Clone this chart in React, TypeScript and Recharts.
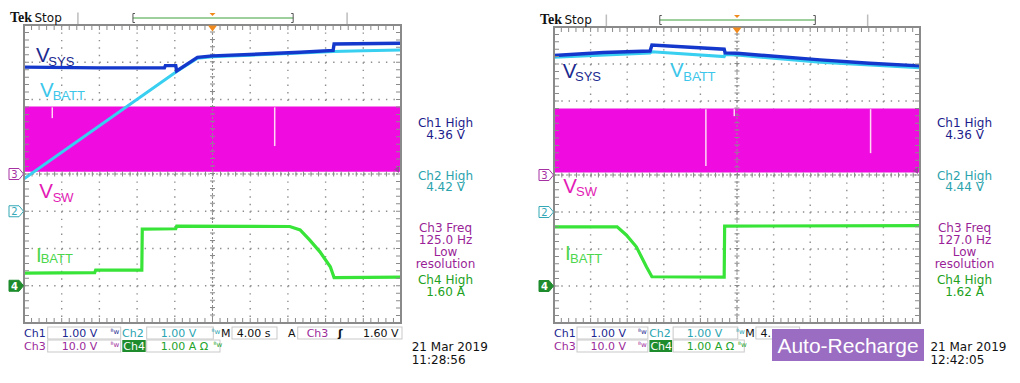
import React from 'react';
import { ComposedChart, Line, Area, XAxis, YAxis, CartesianGrid, ReferenceLine } from 'recharts';

// ---------- axes (4.00 s/div, 10 x 8 divisions) ----------
const TIME_TICKS = [0, 4, 8, 12, 16, 20, 24, 28, 32, 36, 40];
const DIV_TICKS = [0, 1, 2, 3, 4, 5, 6, 7, 8];

// channel settings: ground marker position (div) and units per division
const CH1 = { ground: 3, perDiv: 1 }; // VSYS 1.00 V/div
const CH2 = { ground: 3, perDiv: 1 }; // VBATT 1.00 V/div
const CH3 = { ground: 4, perDiv: 10 }; // VSW 10.0 V/div
const CH4 = { ground: 1, perDiv: 1 }; // IBATT 1.00 A/div

// ---------- left capture (11:28:56) ----------
const leftVsys = [
  { t: 0, v: 3.87 }, { t: 8.0, v: 3.85 }, { t: 14.9, v: 3.85 }, { t: 15.0, v: 3.91 },
  { t: 16.1, v: 3.91 }, { t: 16.2, v: 3.77 }, { t: 18.4, v: 4.13 }, { t: 20.0, v: 4.17 },
  { t: 25.0, v: 4.22 }, { t: 29.3, v: 4.27 }, { t: 32.8, v: 4.32 }, { t: 32.9, v: 4.49 },
  { t: 40, v: 4.51 },
];
const leftVbatt = [
  { t: 0, v: 0.87 }, { t: 16.2, v: 3.75 }, { t: 18.4, v: 4.11 }, { t: 20.0, v: 4.15 },
  { t: 25.0, v: 4.2 }, { t: 29.3, v: 4.25 }, { t: 32.8, v: 4.29 }, { t: 36.0, v: 4.31 },
  { t: 40, v: 4.33 },
];
const leftIbatt = [
  { t: 0, v: 0.34 }, { t: 7.5, v: 0.35 }, { t: 7.6, v: 0.42 }, { t: 12.5, v: 0.42 },
  { t: 12.55, v: 1.52 }, { t: 16.1, v: 1.53 }, { t: 16.2, v: 1.6 }, { t: 28.2, v: 1.59 },
  { t: 29.3, v: 1.5 }, { t: 30.3, v: 1.23 }, { t: 31.4, v: 0.91 }, { t: 32.5, v: 0.51 },
  { t: 32.9, v: 0.22 }, { t: 40, v: 0.23 },
];
const leftVsw = [{ t: 0, lo: 0.8, hi: 17.9 }, { t: 40, lo: 0.8, hi: 17.9 }];
const leftGlitches = [{ t: 3.0, lo: 15.0, hi: 17.9 }, { t: 26.6, lo: 7.5, hi: 17.9 }];

// ---------- right capture (12:42:05, auto-recharge) ----------
const rightVsys = [
  { t: 0, v: 4.23 }, { t: 5.4, v: 4.31 }, { t: 10.5, v: 4.35 }, { t: 10.7, v: 4.51 },
  { t: 18.6, v: 4.4 }, { t: 18.7, v: 4.3 }, { t: 20.0, v: 4.29 }, { t: 29.1, v: 4.11 },
  { t: 34.5, v: 4.02 }, { t: 40, v: 3.95 },
];
const rightVbatt = [
  { t: 0, v: 4.18 }, { t: 10.5, v: 4.3 }, { t: 10.7, v: 4.33 }, { t: 18.6, v: 4.2 },
  { t: 18.7, v: 4.26 }, { t: 20.0, v: 4.24 }, { t: 29.1, v: 4.05 }, { t: 40, v: 3.9 },
];
const rightIbatt = [
  { t: 0, v: 1.6 }, { t: 6.9, v: 1.6 }, { t: 7.9, v: 1.38 }, { t: 9.0, v: 1.06 },
  { t: 10.1, v: 0.52 }, { t: 10.7, v: 0.25 }, { t: 18.6, v: 0.24 }, { t: 18.65, v: 1.62 },
  { t: 40, v: 1.63 },
];
const rightVsw = [{ t: 0, lo: 0.9, hi: 17.8 }, { t: 40, lo: 0.9, hi: 17.8 }];
const rightGlitches = [
  { t: 16.6, lo: 2.4, hi: 17.8 }, { t: 19.7, lo: 15.9, hi: 17.8 }, { t: 34.6, lo: 5.9, hi: 17.8 },
];

// ---------- readouts ----------
const leftReadouts = [
  ['Ch1 High', '4.36 V'], ['Ch2 High', '4.42 V'], ['Ch3 Freq', '125.0 Hz', 'Low', 'resolution'], ['Ch4 High', '1.60 A'],
];
const rightReadouts = [
  ['Ch1 High', '4.36 V'], ['Ch2 High', '4.44 V'], ['Ch3 Freq', '127.0 Hz', 'Low', 'resolution'], ['Ch4 High', '1.62 A'],
];
const leftStamp = ['21 Mar 2019', '11:28:56'];
const rightStamp = ['21 Mar 2019', '12:42:05'];

// ---------- styling ----------
const C_VSYS = '#1438cc';
const C_VBATT = '#38cff0';
const C_VSW = '#f00ce0';
const C_IBATT = '#38e438';
const RD_COLORS = ['#1c1c8c', '#2ba3ad', '#9a1f98', '#21a121'];
const F_UI = "'DejaVu Sans', sans-serif";
const F_LBL = "'Liberation Sans', Arial, sans-serif";
const GRID = '#8e8e8e';
const FRAME = '#8a8a8a';

const LEFT_FRAME = { L: 24, T: 25, W: 377, H: 298 };
const RIGHT_FRAME = { L: 554, T: 27, W: 366, H: 296 };

const toDiv = (pts, ch) => pts.map((p) => ({ t: p.t, d: p.v / ch.perDiv + ch.ground }));

function Scope({ frame, vsys, vbatt, ibatt, vsw, glitches }) {
  const m = 4;
  const band = vsw.map((p) => ({ t: p.t, r: [p.lo / CH3.perDiv + CH3.ground, p.hi / CH3.perDiv + CH3.ground] }));
  const pxX = frame.W / 50;
  const pxY = frame.H / 40;
  const dashX = `1.4 ${pxX - 1.4}`;
  const dashY = `1.4 ${pxY - 1.4}`;
  const tickX = `1 ${pxX - 1}`;
  const tickY = `1 ${pxY - 1}`;
  return (
    <div style={{ position: 'absolute', left: frame.L - m, top: frame.T - m }}>
      <ComposedChart width={frame.W + 2 * m} height={frame.H + 2 * m} margin={{ top: m, right: m, bottom: m, left: m }}>
        <XAxis xAxisId={0} type="number" dataKey="t" domain={[0, 40]} ticks={TIME_TICKS} hide allowDataOverflow height={0} />
        <YAxis yAxisId={0} type="number" domain={[0, 8]} ticks={DIV_TICKS} hide allowDataOverflow width={0} />
        <CartesianGrid vertical={false} stroke={GRID} strokeWidth={1.4} strokeDasharray={dashX} horizontalValues={DIV_TICKS} />
        <CartesianGrid horizontal={false} stroke={GRID} strokeWidth={1.4} strokeDasharray={dashY} verticalValues={TIME_TICKS} />
        <ReferenceLine x={20} stroke={GRID} strokeWidth={1} strokeDasharray="2 2" />
        <ReferenceLine x={20} stroke={FRAME} strokeWidth={5} strokeDasharray={tickY} />
        <ReferenceLine y={4} stroke={GRID} strokeWidth={1} strokeDasharray="2 2" />
        <ReferenceLine y={4} stroke={FRAME} strokeWidth={5} strokeDasharray={tickX} />
        <Area data={band} dataKey="r" type="linear" stroke={C_VSW} strokeWidth={1.5} fill={C_VSW} fillOpacity={1} dot={false} activeDot={false} isAnimationActive={false} />
        {glitches.map((g, i) => (
          <Line
            key={`g${i}`}
            data={[{ t: g.t, d: g.hi / CH3.perDiv + CH3.ground }, { t: g.t, d: g.lo / CH3.perDiv + CH3.ground }]}
            dataKey="d"
            type="linear"
            stroke="#ffd6f4"
            strokeWidth={1.5}
            dot={false}
            activeDot={false}
            isAnimationActive={false}
          />
        ))}
        <Line data={toDiv(vbatt, CH2)} dataKey="d" type="linear" stroke={C_VBATT} strokeWidth={3} dot={false} activeDot={false} isAnimationActive={false} />
        <Line data={toDiv(vsys, CH1)} dataKey="d" type="linear" stroke={C_VSYS} strokeWidth={3.4} dot={false} activeDot={false} isAnimationActive={false} />
        <Line data={toDiv(ibatt, CH4)} dataKey="d" type="linear" stroke={C_IBATT} strokeWidth={3.2} dot={false} activeDot={false} isAnimationActive={false} />
      </ComposedChart>
    </div>
  );
}

function FrameDiv({ frame }) {
  return (
    <div
      style={{
        position: 'absolute',
        left: frame.L - 1,
        top: frame.T - 1,
        width: frame.W + 2,
        height: frame.H + 2,
        boxSizing: 'border-box',
        border: `2px solid ${FRAME}`,
        pointerEvents: 'none',
      }}
    />
  );
}

function Marker({ L, y, label, kind }) {
  const pts = `${L - 15},${y - 5.5} ${L - 5},${y - 5.5} ${L - 0.5},${y} ${L - 5},${y + 5.5} ${L - 15},${y + 5.5}`;
  const colors = { 3: '#a531a3', 2: '#34a8b6', 4: '#1e8c2c' };
  const c = colors[label];
  const filled = kind === 'fill';
  return (
    <g>
      <polygon points={pts} fill={filled ? c : '#fff'} stroke={c} strokeWidth={1} />
      <text x={L - 9.5} y={y + 0.5} fontFamily={F_UI} fontSize={10} fontWeight={filled ? 700 : 400} fill={filled ? '#fff' : c} textAnchor="middle" dominantBaseline="central">
        {label}
      </text>
    </g>
  );
}

function Label({ x, y, main, sub, sx, sy, color }) {
  return (
    <g fill={color} fontFamily={F_LBL}>
      <text x={x} y={y} fontSize={20.5}>{main}</text>
      <text x={sx} y={sy} fontSize={13}>{sub}</text>
    </g>
  );
}

function EdgeTicks({ frame }) {
  const { L, T, W, H } = frame;
  const R = L + W;
  const B = T + H;
  const tX = `1 ${W / 50 - 1}`;
  const tY = `1 ${H / 40 - 1}`;
  return (
    <g>
      <line x1={L - 0.5} x2={R + 0.5} y1={T + 3} y2={T + 3} stroke={FRAME} strokeWidth={4} strokeDasharray={tX} />
      <line x1={L - 0.5} x2={R + 0.5} y1={B - 3} y2={B - 3} stroke={FRAME} strokeWidth={4} strokeDasharray={tX} />
      <line x1={L + 3} x2={L + 3} y1={B + 0.5} y2={T - 0.5} stroke={FRAME} strokeWidth={4} strokeDasharray={tY} />
      <line x1={R - 3} x2={R - 3} y1={B + 0.5} y2={T - 0.5} stroke={FRAME} strokeWidth={4} strokeDasharray={tY} />
    </g>
  );
}

function PanelDecor({ frame, readouts, stamp, labels, covered }) {
  const { L, T, W, H } = frame;
  const R = L + W;
  const s = W / 377;
  const X = (dx) => L + dx * s;
  const cx = L + W / 2;
  const divY = (d) => T + H - (d * H) / 8;
  const trigY = divY(4.12);
  const r1 = 333;
  const r2 = 346;
  const box = (x0, x1, top) => <rect x={X(x0)} y={top} width={(x1 - x0) * s} height={12} fill="#fff" stroke="#c9c9c9" strokeWidth={1} />;
  const t = (dx, y, str, color, extra = {}) => (
    <text x={X(dx)} y={y} fill={color} fontFamily={F_UI} fontSize={11} dominantBaseline="central" {...extra}>{str}</text>
  );
  const bw = (dx, y, color) => (
    <text x={X(dx)} y={y - 1} fill={color} fontFamily={F_UI} fontSize={7} dominantBaseline="central">ᴮw</text>
  );
  return (
    <g>
      <EdgeTicks frame={frame} />
      {/* header */}
      <text x={L - 14} y={T - 3} fontFamily="'Liberation Serif', serif" fontWeight={700} fontSize={14} fill="#111">Tek</text>
      <text x={L + 10.5} y={T - 3.5} fontFamily={F_UI} fontSize={12} fill="#111">Stop</text>
      <line x1={L + 0.143 * W} x2={L + 0.143 * W} y1={T - 12.5} y2={T - 1} stroke="#bdbdbd" strokeWidth={1.5} />
      <line x1={L + 0.857 * W} x2={L + 0.857 * W} y1={T - 12.5} y2={T - 1} stroke="#bdbdbd" strokeWidth={1.5} />
      <line x1={L + 0.289 * W} x2={L + 0.714 * W} y1={T - 7} y2={T - 7} stroke="#3c9f3c" strokeWidth={1} />
      <path d={`M${L + 0.289 * W + 2},${T - 11.5} H${L + 0.289 * W} V${T - 2.5} H${L + 0.289 * W + 2}`} fill="none" stroke="#555" strokeWidth={1} />
      <path d={`M${L + 0.714 * W - 2},${T - 11.5} H${L + 0.714 * W} V${T - 2.5} H${L + 0.714 * W - 2}`} fill="none" stroke="#555" strokeWidth={1} />
      <polygon points={`${cx - 3},${T - 12} ${cx + 3},${T - 12} ${cx},${T - 9}`} fill="#f08a1c" />
      <polygon points={`${cx - 4.5},${T + 0.5} ${cx + 4.5},${T + 0.5} ${cx},${T + 6.5}`} fill="#f08a1c" />
      {/* trigger level */}
      <polygon points={`${R - 2},${trigY - 3.5} ${R - 2},${trigY + 3.5} ${R - 7},${trigY}`} fill="#a040a0" />
      {/* ground markers */}
      <Marker L={L} y={divY(CH3.ground)} label={3} kind="outline" />
      <Marker L={L} y={divY(CH2.ground)} label={2} kind="outline" />
      <Marker L={L} y={divY(CH4.ground)} label={4} kind="fill" />
      {/* trace labels */}
      {labels.map((lb, i) => <Label key={i} {...lb} />)}
      {/* readouts */}
      {readouts.map((grp, gi) => {
        const y0 = [123, 175.5, 228, 280][gi];
        return (
          <text key={gi} x={R + 44.5} y={y0} textAnchor="middle" dominantBaseline="central" fontFamily={F_UI} fontSize={12} fill={RD_COLORS[gi]}>
            {grp.map((line, li) => (
              <tspan key={li} x={R + 44.5} dy={li === 0 ? 0 : 11.9}>{line}</tspan>
            ))}
          </text>
        );
      })}
      {/* status bar row 1 */}
      {t(0, r1, 'Ch1', '#1c2790')}
      {box(23.7, 96.7, r1 - 6)}
      {t(37.7, r1, '1.00 V', '#1c2790')}
      {bw(86.5, r1, '#1c2790')}
      {t(98, r1, 'Ch2', '#2aa4b2')}
      {box(122.7, 189.3, r1 - 6)}
      {t(136.7, r1, '1.00 V', '#2aa4b2')}
      {bw(187.5, r1, '#2aa4b2')}
      {t(197, r1, 'M', '#111')}
      {box(208, 253, r1 - 6)}
      {covered ? t(212.7, r1, '4.', '#111') : t(212.7, r1, '4.00 s', '#111')}
      {!covered && t(264, r1, 'A', '#111')}
      {!covered && box(273.7, 378, r1 - 6)}
      {!covered && t(282.7, r1, 'Ch3', '#9b2a9a')}
      {!covered && t(314, r1, 'ʃ', '#111', { fontWeight: 700 })}
      {!covered && t(339, r1, '1.60 V', '#111')}
      {/* status bar row 2 */}
      {t(0, r2, 'Ch3', '#9b2a9a')}
      {box(23.7, 96.7, r2 - 6)}
      {t(37.7, r2, '10.0 V', '#9b2a9a')}
      {bw(86.5, r2, '#9b2a9a')}
      <rect x={X(98.3)} y={r2 - 6} width={23.4 * s} height={12} fill="#1e8c2c" />
      {t(99.3, r2, 'Ch4', '#fff')}
      {box(122.7, 196, r2 - 6)}
      {t(136.7, r2, '1.00 A Ω', '#23a32a')}
      {bw(189.5, r2, '#23a32a')}
      {/* date */}
      <text x={X(387.7)} y={347} fontFamily={F_UI} fontSize={12} fill="#111" dominantBaseline="central">
        <tspan x={X(387.7)} dy={0}>{stamp[0]}</tspan>
        <tspan x={X(387.7)} dy={12.5}>{stamp[1]}</tspan>
      </text>
    </g>
  );
}

const leftLabels = [
  { main: 'V', sub: 'SYS', x: 36, y: 62, sx: 48.3, sy: 65.5, color: '#1b2a8f' },
  { main: 'V', sub: 'BATT', x: 40, y: 96.7, sx: 52.7, sy: 100, color: '#3cc6ea' },
  { main: 'V', sub: 'SW', x: 39.3, y: 198.3, sx: 52.7, sy: 201.7, color: '#e31bb5' },
  { main: 'I', sub: 'BATT', x: 36, y: 261.7, sx: 40.7, sy: 263.3, color: '#4cd64c' },
];
const rightLabels = [
  { main: 'V', sub: 'SYS', x: 562.7, y: 78.3, sx: 575, sy: 81, color: '#1b2a8f' },
  { main: 'V', sub: 'BATT', x: 670, y: 77.3, sx: 683.3, sy: 80.7, color: '#3cc6ea' },
  { main: 'V', sub: 'SW', x: 563.3, y: 192.7, sx: 576, sy: 195.7, color: '#e31bb5' },
  { main: 'I', sub: 'BATT', x: 565, y: 260, sx: 570, sy: 262.7, color: '#4cd64c' },
];

export default function App() {
  return (
    <div style={{ position: 'absolute', left: 0, top: 0, width: 1020, height: 383, background: '#fff', overflow: 'hidden' }}>
      <Scope frame={LEFT_FRAME} vsys={leftVsys} vbatt={leftVbatt} ibatt={leftIbatt} vsw={leftVsw} glitches={leftGlitches} />
      <Scope frame={RIGHT_FRAME} vsys={rightVsys} vbatt={rightVbatt} ibatt={rightIbatt} vsw={rightVsw} glitches={rightGlitches} />
      <FrameDiv frame={LEFT_FRAME} />
      <FrameDiv frame={RIGHT_FRAME} />
      <svg width={1020} height={383} style={{ position: 'absolute', left: 0, top: 0 }}>
        <PanelDecor frame={LEFT_FRAME} readouts={leftReadouts} stamp={leftStamp} labels={leftLabels} covered={false} />
        <PanelDecor frame={RIGHT_FRAME} readouts={rightReadouts} stamp={rightStamp} labels={rightLabels} covered={true} />
        <rect x={772} y={329} width={152} height={32} fill="#9a6cc2" />
        <text x={848} y={345.5} textAnchor="middle" dominantBaseline="central" fontFamily={F_LBL} fontSize={21} fill="#fff">Auto-Recharge</text>
      </svg>
    </div>
  );
}
